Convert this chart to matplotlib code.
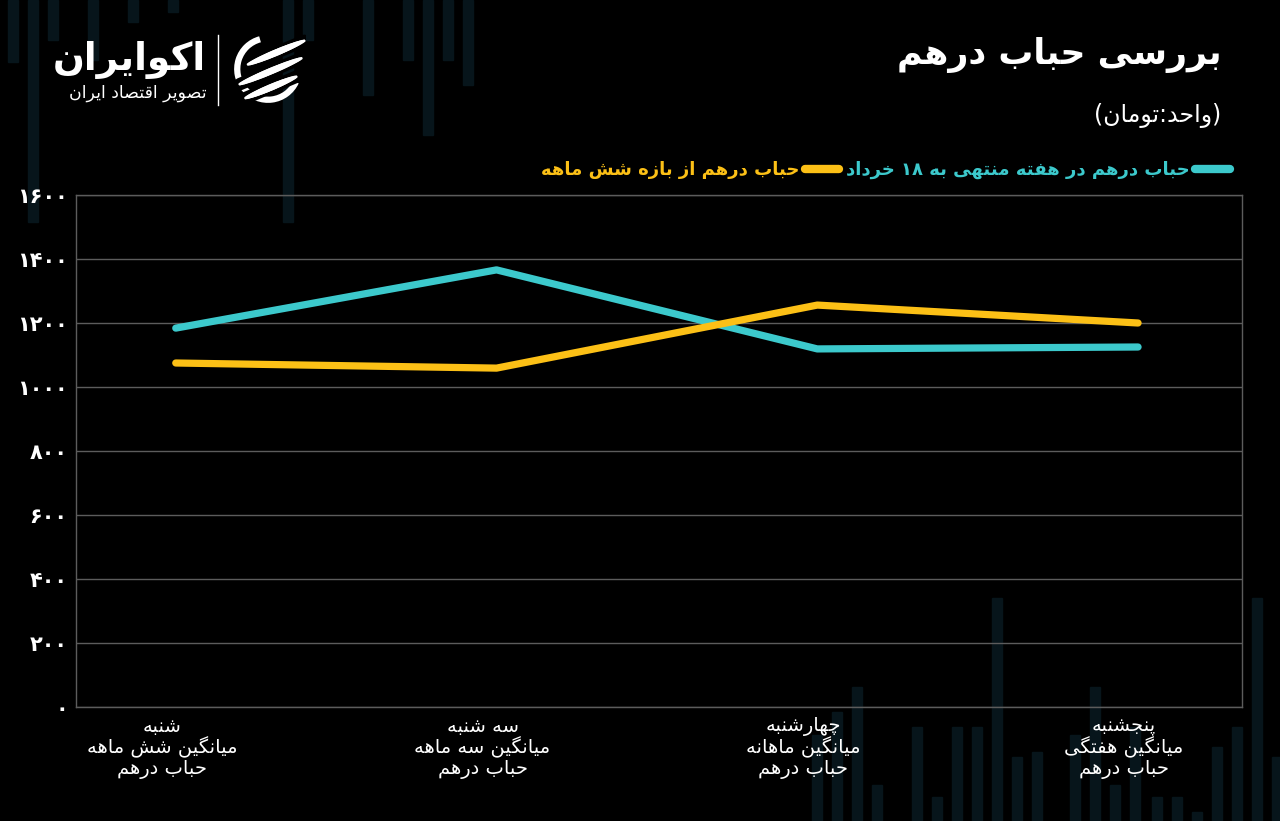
import matplotlib
matplotlib.use("Agg")
import matplotlib.pyplot as plt
import matplotlib.transforms as mtransforms
from matplotlib.lines import Line2D
from matplotlib.patches import Rectangle, Arc
import numpy as np

# --- data ---
categories = ["شنبه\nمیانگین شش ماهه\nحباب درهم",
              "سه شنبه\nمیانگین سه ماهه\nحباب درهم",
              "چهارشنبه\nمیانگین ماهانه\nحباب درهم",
              "پنجشنبه\nمیانگین هفتگی\nحباب درهم"]
week_bubble = [1184, 1366, 1119, 1125]
six_month_bubble = [1075, 1059, 1256, 1200]
series_names = ["حباب درهم در هفته منتهی به ۱۸ خرداد", "حباب درهم از بازه شش ماهه"]
y_ticks = [0, 200, 400, 600, 800, 1000, 1200, 1400, 1600]

title = "بررسی حباب درهم"
subtitle = "(واحد:تومان)"

# --- minimal persian shaping (matplotlib has no arabic shaping / bidi) ---
# letter: (isolated, final, initial, medial) ; right-joining letters have no initial/medial
FORMS = {
    'ا': ('\uFE8D', '\uFE8E', None, None),
    'آ': ('\uFE81', '\uFE82', None, None),
    'د': ('\uFEA9', '\uFEAA', None, None),
    'ذ': ('\uFEAB', '\uFEAC', None, None),
    'ر': ('\uFEAD', '\uFEAE', None, None),
    'ز': ('\uFEAF', '\uFEB0', None, None),
    'ژ': ('\uFB8A', '\uFB8B', None, None),
    'و': ('\uFEED', '\uFEEE', None, None),
    'ب': ('\uFE8F', '\uFE90', '\uFE91', '\uFE92'),
    'پ': ('\uFB56', '\uFB57', '\uFB58', '\uFB59'),
    'ت': ('\uFE95', '\uFE96', '\uFE97', '\uFE98'),
    'ث': ('\uFE99', '\uFE9A', '\uFE9B', '\uFE9C'),
    'ج': ('\uFE9D', '\uFE9E', '\uFE9F', '\uFEA0'),
    'چ': ('\uFB7A', '\uFB7B', '\uFB7C', '\uFB7D'),
    'ح': ('\uFEA1', '\uFEA2', '\uFEA3', '\uFEA4'),
    'خ': ('\uFEA5', '\uFEA6', '\uFEA7', '\uFEA8'),
    'س': ('\uFEB1', '\uFEB2', '\uFEB3', '\uFEB4'),
    'ش': ('\uFEB5', '\uFEB6', '\uFEB7', '\uFEB8'),
    'ص': ('\uFEB9', '\uFEBA', '\uFEBB', '\uFEBC'),
    'ض': ('\uFEBD', '\uFEBE', '\uFEBF', '\uFEC0'),
    'ط': ('\uFEC1', '\uFEC2', '\uFEC3', '\uFEC4'),
    'ع': ('\uFEC9', '\uFECA', '\uFECB', '\uFECC'),
    'ف': ('\uFED1', '\uFED2', '\uFED3', '\uFED4'),
    'ق': ('\uFED5', '\uFED6', '\uFED7', '\uFED8'),
    'ک': ('\uFB8E', '\uFB8F', '\uFB90', '\uFB91'),
    'گ': ('\uFB92', '\uFB93', '\uFB94', '\uFB95'),
    'ل': ('\uFEDD', '\uFEDE', '\uFEDF', '\uFEE0'),
    'م': ('\uFEE1', '\uFEE2', '\uFEE3', '\uFEE4'),
    'ن': ('\uFEE5', '\uFEE6', '\uFEE7', '\uFEE8'),
    'ه': ('\uFEE9', '\uFEEA', '\uFEEB', '\uFEEC'),
    'ی': ('\uFBFC', '\uFBFD', '\uFBFE', '\uFBFF'),
}
DIGITS = set("0123456789۰۱۲۳۴۵۶۷۸۹")
MIRROR = {'(': ')', ')': '('}


def shape_line(line):
    res = []
    for i, c in enumerate(line):
        if c not in FORMS:
            res.append(c)
            continue
        iso, fin, ini, med = FORMS[c]
        prev = line[i - 1] if i > 0 else None
        nxt = line[i + 1] if i + 1 < len(line) else None
        join_prev = prev in FORMS and FORMS[prev][2] is not None
        join_next = ini is not None and nxt in FORMS
        if join_prev and join_next:
            res.append(med)
        elif join_prev:
            res.append(fin)
        elif join_next:
            res.append(ini)
        else:
            res.append(iso)
    # visual order: reverse, but keep digit runs left-to-right
    tokens = []
    for c in res:
        if c in DIGITS and tokens and tokens[-1][0] in DIGITS:
            tokens[-1] += c
        else:
            tokens.append(c)
    return "".join(MIRROR.get(t, t) for t in reversed(tokens))


def fa(text):
    return "\n".join(shape_line(l) for l in text.split("\n"))


def fa_num(n):
    return str(n).translate(str.maketrans("0123456789", "۰۱۲۳۴۵۶۷۸۹"))


plt.rcParams['font.family'] = ['DejaVu Sans']

cyan = "#3cc9cc"
yellow = "#fcc016"
grid_c = "#5c5c5c"
deco_c = "#07151b"

W, H = 1280, 821
fig = plt.figure(figsize=(12.8, 8.21), dpi=100, facecolor="black")

# faint decorative candle bars in the background (pixel x, pixel y of the loose end)
top_bars = [(8, 62), (28, 222), (48, 40), (88, 60), (128, 22), (168, 12),
            (283, 222), (303, 40), (363, 95), (403, 60), (423, 135), (443, 60), (463, 85)]
bottom_bars = [(812, 735), (832, 712), (852, 687), (872, 785), (912, 727), (932, 797), (952, 727),
               (972, 727), (992, 598), (1012, 757), (1032, 752), (1070, 735), (1090, 687),
               (1110, 785), (1130, 727), (1152, 797), (1172, 797), (1192, 812), (1212, 747),
               (1232, 727), (1252, 598), (1272, 757)]
for bx, by in top_bars:
    fig.add_artist(Rectangle((bx / W, 1 - by / H), 10 / W, by / H, color=deco_c, zorder=0))
for bx, by in bottom_bars:
    fig.add_artist(Rectangle((bx / W, 0), 10 / W, 1 - by / H, color=deco_c, zorder=0))

ax = fig.add_axes([76 / W, 1 - 707 / H, (1242 - 76) / W, (707 - 195) / H])
ax.set_facecolor("none")

x = np.arange(len(categories))
ax.plot(x, week_bubble, color=cyan, lw=5.2, solid_capstyle="round", solid_joinstyle="round", zorder=3)
ax.plot(x, six_month_bubble, color=yellow, lw=5.2, solid_capstyle="round", solid_joinstyle="round", zorder=3)

ax.set_xlim(-0.311, 3.324)
ax.set_ylim(0, 1600)
ax.set_yticks(y_ticks)
ax.set_yticklabels([fa_num(v) for v in y_ticks], color="white", fontsize=15, fontweight="bold")
ax.set_xticks(x)
ax.set_xticklabels([fa(c) for c in categories], color="white", fontsize=14, linespacing=1.05)
ax.tick_params(axis="both", length=0)
ax.tick_params(axis="y", pad=6)
ax.tick_params(axis="x", pad=7)
shift = mtransforms.ScaledTranslation(-14 / 100, 0, fig.dpi_scale_trans)
for lab in ax.get_xticklabels():
    lab.set_transform(lab.get_transform() + shift)
ax.grid(axis="y", color=grid_c, lw=1)
for s in ax.spines.values():
    s.set_color(grid_c)
    s.set_linewidth(1)

# legend (RTL: handle on the right of the text)
handles = [Line2D([], [], color=yellow, lw=6, solid_capstyle="round"),
           Line2D([], [], color=cyan, lw=6, solid_capstyle="round")]
leg = fig.legend(handles, [fa(series_names[1]), fa(series_names[0])], ncol=2, markerfirst=False,
                 loc="center right", bbox_to_anchor=(1246 / W, 1 - 170 / H), frameon=False,
                 fontsize=13, handlelength=1.9, handletextpad=0.3, columnspacing=0.4)
for t, c in zip(leg.get_texts(), [yellow, cyan]):
    t.set_color(c)
    t.set_fontweight("bold")

# titles
fig.text(1222 / W, 1 - 55 / H, fa(title), color="white", fontsize=25, fontweight="bold",
         ha="right", va="center")
fig.text(1221 / W, 1 - 115 / H, fa(subtitle), color="white", fontsize=17,
         ha="right", va="center")

# logo
fig.text(206 / W, 1 - 60 / H, fa("اکوایران"), color="white", fontsize=27, fontweight="bold",
         ha="right", va="center")
fig.text(207 / W, 1 - 93 / H, fa("تصویر اقتصاد ایران"), color="white", fontsize=12.5,
         ha="right", va="center")
fig.add_artist(Line2D([218 / W, 218 / W], [1 - 35 / H, 1 - 105 / H], color="white", lw=1))
logo = fig.add_axes([230 / W, 1 - 107 / H, 76 / W, 76 / H])
logo.set_xlim(-1.05, 1.05)
logo.set_ylim(-1.05, 1.05)
logo.set_aspect("equal")
logo.axis("off")
logo.add_patch(Arc((0, 0), 1.7, 1.7, theta1=105, theta2=335, color="white", lw=4.5))
slope = 0.42
for off, x0, x1 in [(0.40, -0.55, 1.0), (-0.05, -0.78, 0.92), (-0.50, -0.62, 0.78)]:
    xs = np.linspace(x0, x1, 30)
    ys = off + slope * (xs - 0.1)
    logo.plot(xs, ys, color="black", lw=9, solid_capstyle="round")
    for j in range(len(xs) - 1):
        w = 1.2 + 3.6 * np.sin(np.pi * (j + 0.5) / (len(xs) - 1)) ** 0.5
        logo.plot(xs[j:j + 2], ys[j:j + 2], color="white", lw=w, solid_capstyle="round")

fig.savefig("out.png", dpi=100, facecolor="black")
